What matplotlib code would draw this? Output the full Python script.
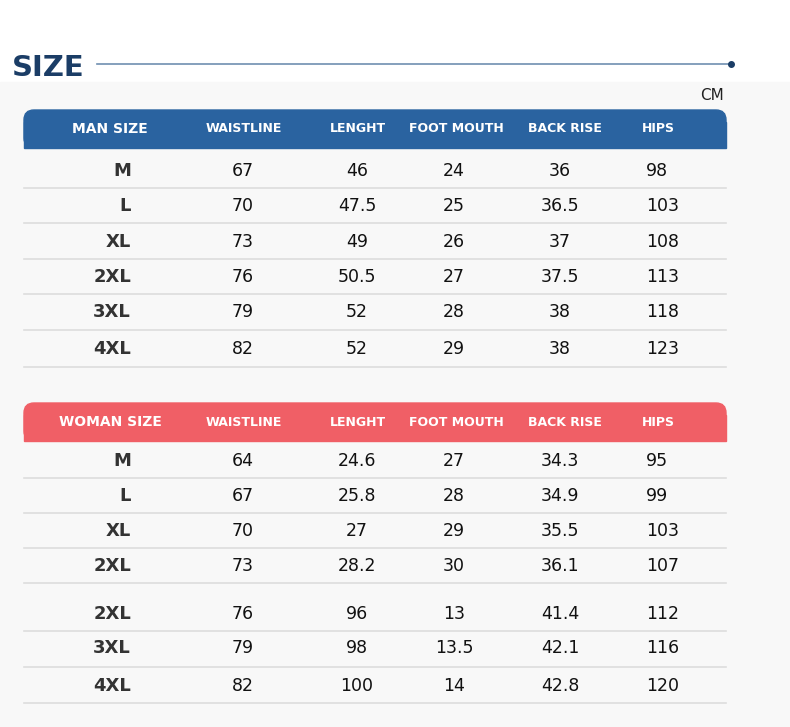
import matplotlib
matplotlib.use("Agg")
from matplotlib import pyplot as plt
from matplotlib.patches import FancyBboxPatch, Rectangle

headers = ["WAISTLINE", "LENGHT", "FOOT MOUTH", "BACK RISE", "HIPS"]

man_sizes = ["M", "L", "XL", "2XL", "3XL", "4XL"]
man_waist = ["67", "70", "73", "76", "79", "82"]
man_length = ["46", "47.5", "49", "50.5", "52", "52"]
man_foot = ["24", "25", "26", "27", "28", "29"]
man_rise = ["36", "36.5", "37", "37.5", "38", "38"]
man_hips = ["98", "103", "108", "113", "118", "123"]

woman_sizes = ["M", "L", "XL", "2XL", "2XL", "3XL", "4XL"]
woman_waist = ["64", "67", "70", "73", "76", "79", "82"]
woman_length = ["24.6", "25.8", "27", "28.2", "96", "98", "100"]
woman_foot = ["27", "28", "29", "30", "13", "13.5", "14"]
woman_rise = ["34.3", "34.9", "35.5", "36.1", "41.4", "42.1", "42.8"]
woman_hips = ["95", "99", "103", "107", "112", "116", "120"]

fig = plt.figure(figsize=(7.9, 7.27), dpi=100)
ax = fig.add_axes([0, 0, 1, 1])
ax.set_xlim(0, 790)
ax.set_ylim(727, 0)
ax.axis("off")

# background
ax.add_patch(Rectangle((0, 82), 790, 645, color="#f8f8f8", zorder=0))
ax.text(12, 68, "SIZE", fontsize=21, fontweight="bold", color="#1b3d66", va="center")
ax.plot([97, 731], [64, 64], color="#6f8fb0", lw=1.2)
ax.plot([731], [64], "o", color="#1b3d66", ms=4)
ax.text(712, 96, "CM", fontsize=11, color="#222222", ha="center", va="center")

col_x = [244, 358, 456, 565, 658]
val_x = [242, 357, 454, 560, 646]


def header(y0, y1, color, title):
    ax.add_patch(FancyBboxPatch((24, y0), 702, y1 - y0,
                                boxstyle="round,pad=0,rounding_size=10",
                                color=color, zorder=1))
    ax.add_patch(Rectangle((24, y0 + 12), 702, y1 - y0 - 12, color=color, zorder=1))
    yc = (y0 + y1) / 2
    ax.text(110, yc, title, color="white", fontsize=10, fontweight="bold",
            ha="center", va="center", zorder=2)
    for x, h in zip(col_x, headers):
        ax.text(x, yc, h, color="white", fontsize=9, fontweight="bold",
                ha="center", va="center", zorder=2)


def rows(ys, lines, sizes, cols):
    for i, y in enumerate(ys):
        ax.text(131, y, sizes[i], fontsize=13, fontweight="bold", color="#333333",
                ha="right", va="center")
        for j, c in enumerate(cols):
            ha = "left" if j in (0, 4) else "center"
            x = val_x[j] - 10 if j == 0 else val_x[j]
            ax.text(x, y, c[i], fontsize=12.5, color="#111111", ha=ha, va="center")
    for ly in lines:
        ax.plot([24, 726], [ly, ly], color="#dddddd", lw=1.2)


header(110, 148, "#2a63a0", "MAN SIZE")
rows([171, 206, 242, 277, 312, 349], [188, 223, 259, 294, 330, 367],
     man_sizes, [man_waist, man_length, man_foot, man_rise, man_hips])

header(403, 441, "#f05f66", "WOMAN SIZE")
rows([461, 496, 531, 566, 614, 648, 686], [478, 513, 548, 583, 631, 667, 703],
     woman_sizes, [woman_waist, woman_length, woman_foot, woman_rise, woman_hips])

fig.savefig("out.png", dpi=100)
